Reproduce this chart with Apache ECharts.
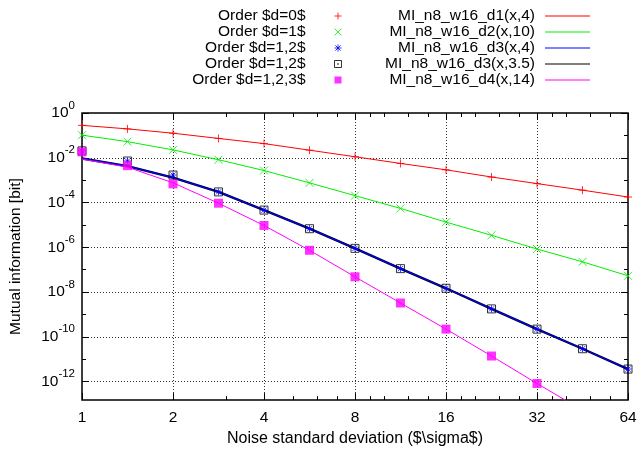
<!DOCTYPE html>
<html>
<head>
<meta charset="utf-8">
<script src="https://cdn.jsdelivr.net/npm/echarts@6/dist/echarts.min.js"></script>
<style>
  html, body { margin: 0; padding: 0; background: #fff; }
  #chart { width: 640px; height: 452px; }
</style>
</head>
<body>
<div id="chart"></div>
<script>
// Noise standard deviation, sampled in half-octave steps
const sigma = [1, 1.414, 2, 2.828, 4, 5.657, 8, 11.31, 16, 22.63, 32, 45.25, 64];

// Measured mutual information [bit] per interaction order
const orderD0   = [0.280, 0.195, 0.125, 0.0731, 0.0429, 0.0218, 0.0111, 5.57e-3, 2.89e-3, 1.38e-3, 7.0e-4, 3.57e-4, 1.76e-4];
const orderD1   = [0.102, 0.0524, 0.0224, 8.17e-3, 2.69e-3, 7.53e-4, 2.03e-4, 5.46e-5, 1.33e-5, 3.43e-6, 8.34e-7, 2.24e-7, 5.30e-8];
const orderD12a = [0.0203, 7.16e-3, 1.69e-3, 2.98e-4, 4.59e-5, 6.75e-6, 8.95e-7, 1.11e-7, 1.47e-8, 1.76e-9, 2.20e-10, 2.92e-11, 3.61e-12];
const orderD12b = [0.0203, 7.16e-3, 1.69e-3, 2.98e-4, 4.59e-5, 6.75e-6, 8.95e-7, 1.11e-7, 1.47e-8, 1.76e-9, 2.20e-10, 2.92e-11, 3.61e-12];
const orderD123 = [0.0183, 4.46e-3, 6.81e-4, 9.31e-5, 9.42e-6, 7.31e-7, 4.79e-8, 3.23e-9, 2.20e-10, 1.38e-11, 8.17e-13];

// Model curves MI_n8_w16_dk(x, c)
const miD1x4   = [0.280, 0.195, 0.125, 0.0731, 0.0429, 0.0218, 0.0111, 5.57e-3, 2.89e-3, 1.38e-3, 7.0e-4, 3.57e-4, 1.76e-4];
const miD2x10  = [0.102, 0.0524, 0.0224, 8.17e-3, 2.69e-3, 7.53e-4, 2.03e-4, 5.46e-5, 1.33e-5, 3.43e-6, 8.34e-7, 2.24e-7, 5.30e-8];
const miD3x4   = [9.3e-3, 4.2e-3, 1.29e-3, 3.0e-4, 4.59e-5, 6.75e-6, 8.95e-7, 1.11e-7, 1.47e-8, 1.76e-9, 2.20e-10, 2.92e-11, 3.61e-12];
const miD3x35  = [9.3e-3, 4.2e-3, 1.29e-3, 3.0e-4, 4.59e-5, 6.75e-6, 8.95e-7, 1.11e-7, 1.47e-8, 1.76e-9, 2.20e-10, 2.92e-11, 3.61e-12];
const miD4x14  = [8.7e-3, 3.8e-3, 7.6e-4, 9.31e-5, 9.42e-6, 7.31e-7, 4.79e-8, 3.23e-9, 2.20e-10, 1.38e-11, 8.17e-13, 5.2e-14];

// Axis ticks
const xMajor = [1, 2, 4, 8, 16, 32, 64];
const xMinor = [3, 5, 6, 7, 9, 10, 12, 14, 18, 20, 24, 28, 36, 40, 48, 56];
const yMajor = [1, 1e-2, 1e-4, 1e-6, 1e-8, 1e-10, 1e-12];
const yMinor = [1e-1, 1e-3, 1e-5, 1e-7, 1e-9, 1e-11];
const yMin = 1.48e-13, yMax = 1;
const xMin = 1, xMax = 64;

const FONT = '"Liberation Sans", Arial, Helvetica, sans-serif';

function pairs(values) {
  return values.map((v, i) => [sigma[i], v]);
}

// Marker shapes
const SYM_PLUS   = 'path://M0,4L8,4M4,0L4,8';
const SYM_CROSS  = 'path://M0,0L8,8M8,0L0,8';
const SYM_STAR   = 'path://M0,4L8,4M4,0L4,8M1,1L7,7M7,1L1,7';
const SYM_BOX    = 'path://M0,0L8,0L8,8L0,8ZM3.6,3.6L4.4,3.6L4.4,4.4L3.6,4.4Z';
const SYM_SQUARE = 'path://M0,0L8,0L8,8L0,8Z';
const ICON_LINE  = 'path://M0,0L45,0L45,1.1L0,1.1Z';

function tickOnlyX(position, values, len) {
  return {
    type: 'log', logBase: 2, min: xMin, max: xMax, position: position,
    axisLine: { show: false },
    axisLabel: { show: false },
    splitLine: { show: false },
    axisTick: { show: true, inside: true, length: len, customValues: values,
                lineStyle: { color: '#000', width: 1 } }
  };
}
function tickOnlyY(position, values, len) {
  return {
    type: 'log', logBase: 10, min: yMin, max: yMax, position: position,
    axisLine: { show: false },
    axisLabel: { show: false },
    splitLine: { show: false },
    axisTick: { show: true, inside: true, length: len, customValues: values,
                lineStyle: { color: '#000', width: 1 } }
  };
}

const gridLine = { show: true, lineStyle: { color: '#333', width: 1, type: [1, 2] } };

function pointSeries(name, values, symbol, size, color, filled, z) {
  return {
    name: name, type: 'scatter', xAxisIndex: 0, yAxisIndex: 0,
    data: pairs(values), symbol: symbol, symbolSize: size, z: z,
    itemStyle: filled ? { color: color } : { color: 'none', borderColor: color, borderWidth: 1 },
    emphasis: { disabled: true }
  };
}
function curveSeries(name, values, color, width, z) {
  return {
    name: name, type: 'line', xAxisIndex: 0, yAxisIndex: 0,
    data: pairs(values), symbol: 'none', showSymbol: false, z: z,
    lineStyle: { color: color, width: width },
    itemStyle: { color: color },
    emphasis: { disabled: true }
  };
}

const NAME_D0 = 'Order $d=0$';
const NAME_D1 = 'Order $d=1$';
const NAME_D12A = 'Order $d=1,2$';
const NAME_D12B = 'Order $d=1,2$\u200B';
const NAME_D123 = 'Order $d=1,2,3$';
const NAME_M1 = 'MI_n8_w16_d1(x,4)';
const NAME_M2 = 'MI_n8_w16_d2(x,10)';
const NAME_M3 = 'MI_n8_w16_d3(x,4)';
const NAME_M3B = 'MI_n8_w16_d3(x,3.5)';
const NAME_M4 = 'MI_n8_w16_d4(x,14)';

const legendText = { fontFamily: FONT, fontSize: 15.5, color: '#000', lineHeight: 16, padding: [0, 5, 0, 0] };

const option = {
  animation: false,
  textStyle: { fontFamily: FONT },
  grid: { left: 81, right: 12, top: 113, bottom: 46, show: true, borderColor: '#000', borderWidth: 1.5, backgroundColor: 'transparent', containLabel: false },
  legend: [
    {
      data: [NAME_D0, NAME_D1, NAME_D12A, NAME_D12B, NAME_D123],
      orient: 'vertical', align: 'right', right: 296, top: 8, padding: 0,
      itemWidth: 45, itemHeight: 7, itemGap: 0, selectedMode: false,
      itemStyle: { borderWidth: 1 },
      textStyle: legendText
    },
    {
      data: [NAME_M1, NAME_M2, NAME_M3, NAME_M3B, NAME_M4],
      orient: 'vertical', align: 'right', right: 50, top: 8, padding: 0,
      itemWidth: 45, itemHeight: 7, itemGap: 0, selectedMode: false,
      icon: ICON_LINE,
      textStyle: legendText
    }
  ],
  xAxis: [
    {
      type: 'log', logBase: 2, min: xMin, max: xMax, position: 'bottom',
      name: 'Noise standard deviation ($\\sigma$)', nameLocation: 'middle', nameGap: 29,
      nameTextStyle: { fontFamily: FONT, fontSize: 16, color: '#000' },
      axisLine: { show: false },
      axisTick: { show: true, inside: true, length: 7, customValues: xMajor, lineStyle: { color: '#000', width: 1 } },
      axisLabel: { show: true, customValues: xMajor, margin: 10, fontFamily: FONT, fontSize: 15.5, color: '#000',
                   formatter: v => String(Math.round(v)) },
      splitLine: gridLine
    },
    tickOnlyX('bottom', xMinor, 4),
    tickOnlyX('top', xMajor, 7),
    tickOnlyX('top', xMinor, 4)
  ],
  yAxis: [
    {
      type: 'log', logBase: 10, min: yMin, max: yMax, position: 'left',
      name: 'Mutual information [bit]', nameLocation: 'middle', nameGap: 58,
      nameTextStyle: { fontFamily: FONT, fontSize: 15.5, color: '#000' },
      axisLine: { show: false },
      axisTick: { show: true, inside: true, length: 7, customValues: yMajor, lineStyle: { color: '#000', width: 1 } },
      axisLabel: {
        show: true, customValues: yMajor, margin: 7,
        formatter: v => '{b|10}{s|' + Math.round(Math.log10(v)) + '}',
        rich: {
          b: { fontFamily: FONT, fontSize: 15.5, color: '#000', lineHeight: 27, verticalAlign: 'middle' },
          s: { fontFamily: FONT, fontSize: 11.5, color: '#000', lineHeight: 12, verticalAlign: 'top' }
        }
      },
      splitLine: gridLine
    },
    tickOnlyY('left', yMinor, 4),
    tickOnlyY('right', yMajor, 7),
    tickOnlyY('right', yMinor, 4)
  ],
  series: [
    curveSeries(NAME_M1, miD1x4, '#ff0000', 1, 2),
    curveSeries(NAME_M2, miD2x10, '#00ee00', 1, 2),
    curveSeries(NAME_M3B, miD3x35, '#000000', 2.4, 2),
    curveSeries(NAME_M3, miD3x4, '#0000ff', 1.3, 3),
    curveSeries(NAME_M4, miD4x14, '#ff00ff', 1, 3),
    pointSeries(NAME_D0, orderD0, SYM_PLUS, 8, '#ff0000', false, 4),
    pointSeries(NAME_D1, orderD1, SYM_CROSS, 8, '#00ee00', false, 4),
    pointSeries(NAME_D12B, orderD12b, SYM_BOX, 8, '#000000', false, 4),
    pointSeries(NAME_D12A, orderD12a, SYM_STAR, 7, '#0000ff', false, 5),
    pointSeries(NAME_D123, orderD123, SYM_SQUARE, 9, '#ff00ff', true, 6)
  ]
};

const chart = echarts.init(document.getElementById('chart'), null, { renderer: 'canvas' });
chart.setOption(option);
</script>
</body>
</html>
